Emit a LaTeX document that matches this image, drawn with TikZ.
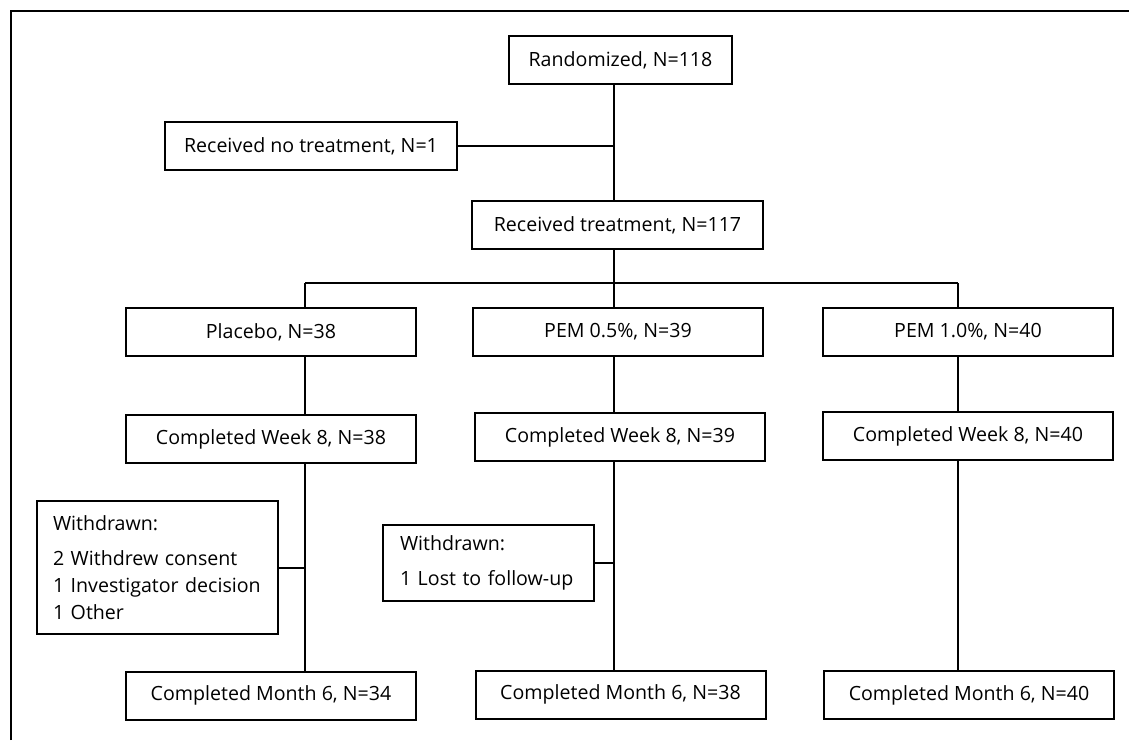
\documentclass[tikz,border=0pt]{standalone}
\usepackage{fontspec}
\setmainfont{Open Sans}
\usetikzlibrary{positioning}

\begin{document}
\begin{tikzpicture}[x=0.5pt,y=-0.5pt,
  box/.style={draw, line width=1pt, minimum height=24pt, inner sep=0pt, font=\fontsize{9.8}{12}\selectfont},
  armbox/.style={box, minimum width=145pt},
  wdbox/.style={draw, line width=1pt, align=left, inner ysep=0pt, font=\fontsize{9.8}{13.5}\selectfont},
  link/.style={line width=1pt}]
\useasboundingbox (0,0) rectangle (1129,740); % page size
\draw[line width=1pt] (11,740) -- (11,11) -- (1129,11); % outer frame
% top of the chart
\node[box, minimum width=111.5pt] (rand) at (620.5,60) {Randomized, N=118};
\node[box, minimum width=146pt] (none) at (311,146) {Received no treatment, N=1};
\node[box, minimum width=145.5pt] (recv) at (617.5,225) {Received treatment, N=117};
\coordinate (trunk) at (614,0); % main vertical line
\coordinate (cA) at (305,283); % placebo branch
\coordinate (cB) at (614,283); % PEM 0.5% branch
\coordinate (cC) at (958,283); % PEM 1.0% branch
% the three arms
\node[armbox] (plc) at (271,332) {Placebo, N=38};
\node[armbox] (pa) at (618,332) {PEM 0.5\%, N=39};
\node[armbox] (pb) at (968,332) {PEM 1.0\%, N=40};
\node[armbox] (wplc) at (271,439) {Completed Week 8, N=38};
\node[armbox] (wpa) at (620,437) {Completed Week 8, N=39};
\node[armbox] (wpb) at (968,436) {Completed Week 8, N=40};
\node[armbox] (mplc) at (271,695.5) {Completed Month 6, N=34};
\node[armbox] (mpa) at (620.5,694.5) {Completed Month 6, N=38};
\node[armbox] (mpb) at (969,695) {Completed Month 6, N=40};
% withdrawals
\node[wdbox, inner xsep=8pt, text width=104.5pt, minimum height=66.5pt] (wdplc) at (157.5,567.5) {Withdrawn:\\[4pt]2 Withdrew consent\\1 Investigator decision\\1 Other};
\node[wdbox, inner xsep=8.5pt, text width=88.5pt, minimum height=38pt] (wdpa) at (488.5,563) {Withdrawn:\\[4pt]1 Lost to follow-up};
% connectors
\draw[link] (rand.south -| trunk) -- (recv.north -| trunk);
\draw[link] (none.east) -- (none.east -| trunk);
\draw[link] (recv.south -| trunk) -- (cB);
\draw[link] (cA) -- (cC);
\draw[link] (cA) -- (plc.north -| cA);
\draw[link] (cB) -- (pa.north -| cB);
\draw[link] (cC) -- (pb.north -| cC);
\draw[link] (plc.south -| cA) -- (wplc.north -| cA);
\draw[link] (pa.south -| cB) -- (wpa.north -| cB);
\draw[link] (pb.south -| cC) -- (wpb.north -| cC);
\draw[link] (wplc.south -| cA) -- (mplc.north -| cA);
\draw[link] (wpa.south -| cB) -- (mpa.north -| cB);
\draw[link] (wpb.south -| cC) -- (mpb.north -| cC);
\draw[link] (wdplc.east) -- (wdplc.east -| cA);
\draw[link] (wdpa.east) -- (wdpa.east -| cB);
\end{tikzpicture}
\end{document}
